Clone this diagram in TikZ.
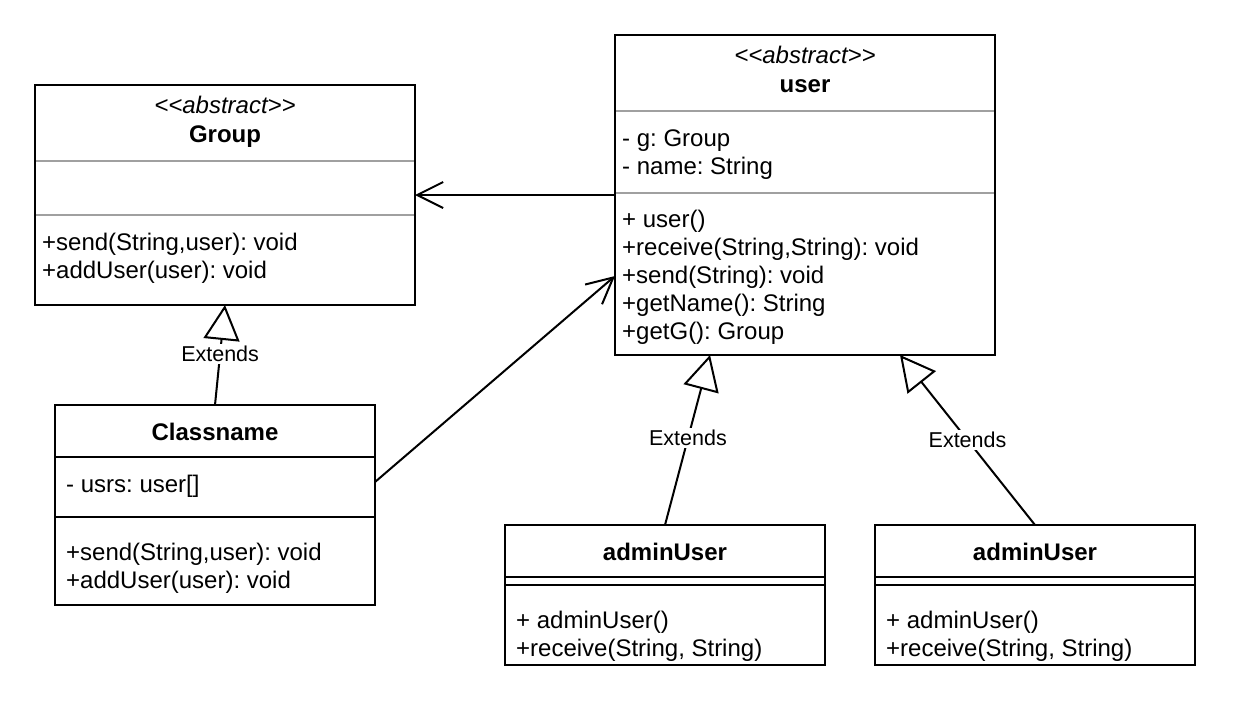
\documentclass[tikz,border=0pt]{standalone}
\usepackage{fontspec}
\setmainfont{Liberation Sans}
\usetikzlibrary{arrows.meta}
\definecolor{sepgray}{HTML}{A0A0A0}
\frenchspacing
\begin{document}
\begin{tikzpicture}[x=1pt,y=-1pt,
  classbox/.style={draw, line width=2pt, outer sep=0pt, inner sep=0pt, anchor=north west},
  txt/.style={anchor=base west, inner sep=0pt, font=\fontsize{24}{28}\selectfont},
  ttl/.style={anchor=base, inner sep=0pt, font=\fontsize{24}{28}\selectfont\bfseries},
  stereo/.style={anchor=base, inner sep=0pt, font=\fontsize{24}{28}\selectfont\itshape},
  graysep/.style={draw=sepgray, line width=2pt},
  blacksep/.style={draw=black, line width=2pt},
  assoc/.style={line width=2pt, -{Straight Barb[length=26pt, width=26pt, line width=2pt]}},
  extends/.style={line width=2pt, -{Triangle[open, fill=white, length=35pt, width=36pt, line width=2pt]}},
  lbl/.style={fill=white, inner sep=2pt, font=\fontsize{21.5}{24}\selectfont}
]
\useasboundingbox[fill=white] (0,0) rectangle (1244,718);

% Group
\node[classbox, minimum width=380pt, minimum height=220pt] (group) at (35,85) {};
\node[stereo] (gst) at (225,113) {<{}<abstract>{}>};
\node[ttl] (gttl) at (225,142) {Group};
\draw[graysep] (36,161) -- (414,161);
\draw[graysep] (36,215) -- (414,215);
\node[txt] (gm1) at (42,250) {+send(String,user): void};
\node[txt] (gm2) at (42,278) {+addUser(user): void};

% user
\node[classbox, minimum width=380pt, minimum height=320pt] (user) at (615,35) {};
\node[stereo] (ust) at (805,63) {<{}<abstract>{}>};
\node[ttl] (uttl) at (805,92) {user};
\draw[graysep] (616,111) -- (994,111);
\node[txt] (ua1) at (622,146) {- g: Group};
\node[txt] (ua2) at (622,174) {- name: String};
\draw[graysep] (616,193) -- (994,193);
\node[txt] (um1) at (622,227) {+ user()};
\node[txt] (um2) at (622,255) {+receive(String,String): void};
\node[txt] (um3) at (622,283) {+send(String): void};
\node[txt] (um4) at (622,311) {+getName(): String};
\node[txt] (um5) at (622,339) {+getG(): Group};

% Classname
\node[classbox, minimum width=320pt, minimum height=200pt] (cls) at (55,405) {};
\node[ttl] (cttl) at (215,440) {Classname};
\draw[blacksep] (55,457) -- (375,457);
\node[txt] (ca1) at (66,492) {- usrs: user[]};
\draw[blacksep] (55,517) -- (375,517);
\node[txt] (cm1) at (66,560) {+send(String,user): void};
\node[txt] (cm2) at (66,588) {+addUser(user): void};

% adminUser 1
\node[classbox, minimum width=320pt, minimum height=140pt] (admA) at (505,525) {};
\node[ttl] (attl) at (665,560) {adminUser};
\draw[blacksep] (505,577) -- (825,577);
\draw[blacksep] (505,585) -- (825,585);
\node[txt] (am1) at (516,628) {+ adminUser()};
\node[txt] (am2) at (516,656) {+receive(String, String)};

% adminUser 2
\node[classbox, minimum width=320pt, minimum height=140pt] (admB) at (875,525) {};
\node[ttl] (bttl) at (1035,560) {adminUser};
\draw[blacksep] (875,577) -- (1195,577);
\draw[blacksep] (875,585) -- (1195,585);
\node[txt] (bm1) at (886,628) {+ adminUser()};
\node[txt] (bm2) at (886,656) {+receive(String, String)};

% connectors
\draw[assoc] (user.west) -- (group.east);
\draw[assoc] ([yshift=23pt]cls.east) -- ([yshift=-81pt]user.west);
\draw[extends] (cls.north) -- node[lbl, pos=0.51] (e1) {Extends} (group.south);
\draw[extends] (admA.north) -- node[lbl, pos=0.51] (e2) {Extends} ([xshift=-95pt]user.south);
\draw[extends] (admB.north) -- node[lbl, pos=0.5] (e3) {Extends} ([xshift=95pt]user.south);
\end{tikzpicture}
\end{document}
